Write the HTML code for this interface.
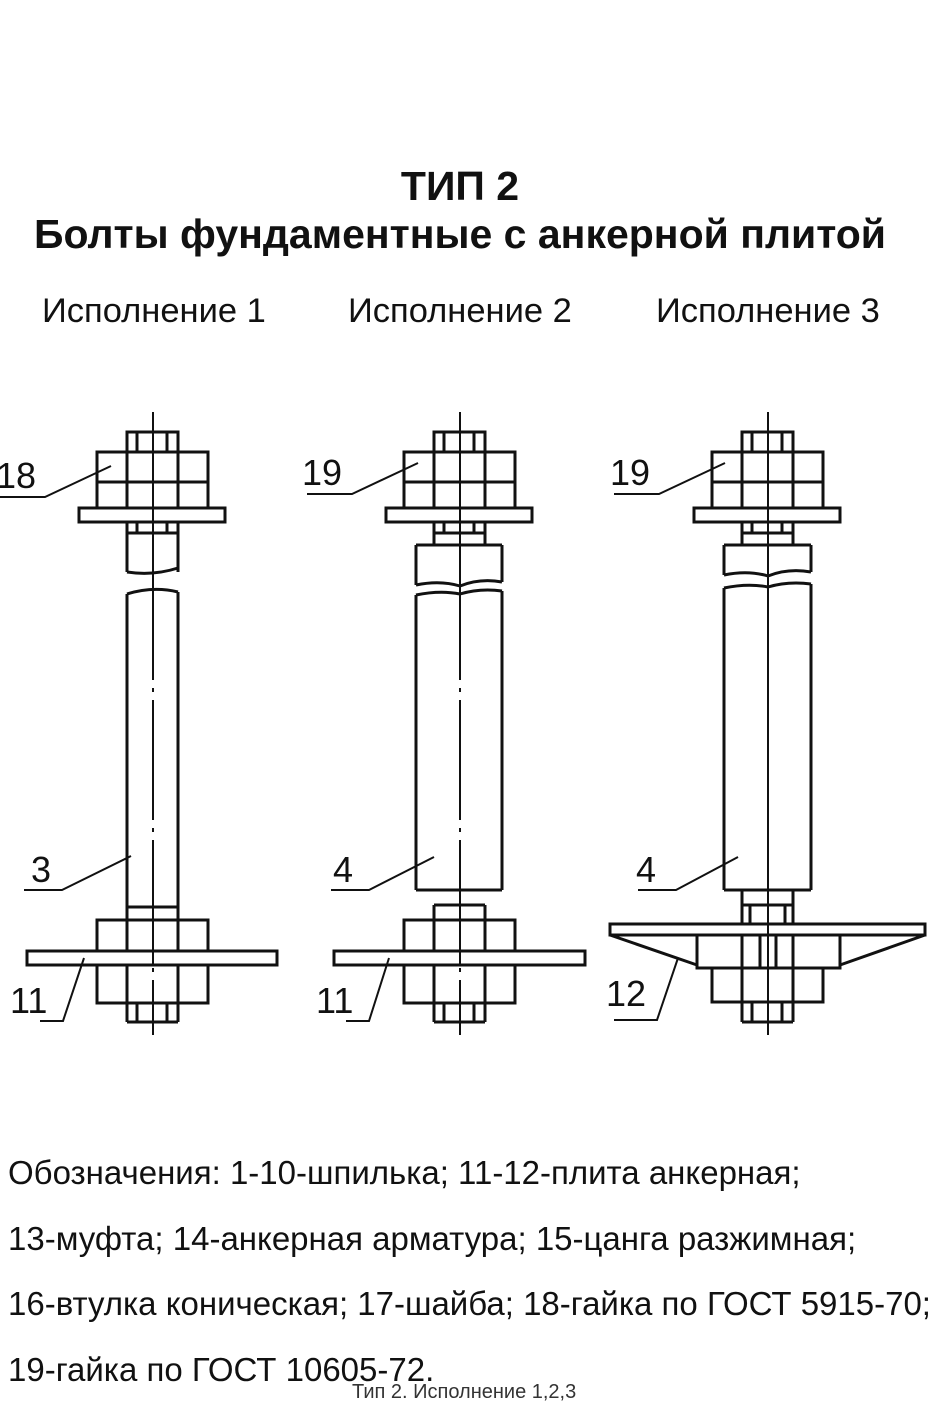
<!DOCTYPE html>
<html><head><meta charset="utf-8"><style>
body{margin:0;background:#fff;width:945px;height:1417px;overflow:hidden;position:relative;font-family:"Liberation Sans",sans-serif;}
.t{position:absolute;white-space:nowrap;color:#111;}
</style></head><body>
<div class="t" style="left:0;width:920px;text-align:center;top:163px;font-size:41px;font-weight:bold;">ТИП 2</div>
<div class="t" style="left:0;width:920px;text-align:center;top:211px;font-size:41px;font-weight:bold;">Болты фундаментные с анкерной плитой</div>
<div class="t" style="left:42px;top:292px;font-size:34.5px;">Исполнение 1</div>
<div class="t" style="left:348px;top:292px;font-size:34.5px;">Исполнение 2</div>
<div class="t" style="left:656px;top:292px;font-size:34.5px;">Исполнение 3</div>
<div class="t" style="left:8px;top:1154px;font-size:33px;">Обозначения: 1-10-шпилька; 11-12-плита анкерная;</div>
<div class="t" style="left:8px;top:1220px;font-size:33px;">13-муфта; 14-анкерная арматура; 15-цанга разжимная;</div>
<div class="t" style="left:8px;top:1285px;font-size:33px;">16-втулка коническая; 17-шайба; 18-гайка по ГОСТ 5915-70;</div>
<div class="t" style="left:8px;top:1351px;font-size:33px;">19-гайка по ГОСТ 10605-72.</div>
<div class="t" style="left:352px;top:1381px;font-size:20px;color:#333;">Тип 2. Исполнение 1,2,3</div>
<svg width="945" height="1417" style="position:absolute;left:0;top:0" fill="none" stroke="#111" stroke-width="3">
<defs>
<g id="top">
<line x1="0" y1="412" x2="0" y2="560" stroke-width="2"/>
<rect x="-26" y="432" width="51" height="20"/>
<line x1="-16" y1="432" x2="-16" y2="452"/><line x1="14" y1="432" x2="14" y2="452"/>
<rect x="-56" y="452" width="111" height="56"/>
<line x1="-56" y1="482" x2="55" y2="482"/>
<line x1="-26" y1="452" x2="-26" y2="508"/><line x1="25" y1="452" x2="25" y2="508"/>
<rect x="-74" y="508" width="146" height="14" fill="#fff"/>
<line x1="0" y1="508" x2="0" y2="522" stroke-width="2"/>
<line x1="-16" y1="522" x2="-16" y2="533"/><line x1="14" y1="522" x2="14" y2="533"/>
<line x1="-26" y1="533" x2="25" y2="533"/>
</g>
<g id="botnut">
<rect x="-56" y="920" width="111" height="31"/>
<rect x="-56" y="965" width="111" height="38"/>
<line x1="-26" y1="905" x2="-26" y2="1022"/><line x1="25" y1="905" x2="25" y2="1022"/>
<line x1="-26" y1="1022" x2="25" y2="1022"/>
<line x1="-16" y1="1003" x2="-16" y2="1022"/><line x1="14" y1="1003" x2="14" y2="1022"/>
<line x1="0" y1="560" x2="0" y2="1035" stroke-width="2" stroke-dasharray="120 8 4 8"/>
</g>
</defs>
<g transform="translate(153,0)">
<use href="#top"/><use href="#botnut"/>
<line x1="-26" y1="522" x2="-26" y2="572"/><line x1="25" y1="522" x2="25" y2="572"/>
<path d="M-26 572 Q0 576 25 568"/><path d="M-26 594 Q0 586 25 592"/>
<line x1="-26" y1="594" x2="-26" y2="907"/><line x1="25" y1="592" x2="25" y2="907"/>
<line x1="-26" y1="907" x2="25" y2="907"/>
<rect x="-126" y="951" width="250" height="14" fill="#fff"/>
<line x1="0" y1="951" x2="0" y2="965" stroke-width="2"/>
</g>
<g transform="translate(460,0)">
<use href="#top"/><use href="#botnut"/>
<line x1="-26" y1="522" x2="-26" y2="545"/><line x1="25" y1="522" x2="25" y2="545"/>
<line x1="-44" y1="545" x2="42" y2="545"/>
<line x1="-44" y1="545" x2="-44" y2="585"/><line x1="42" y1="545" x2="42" y2="582"/>
<path d="M-44 585 Q-20 580 0 586 Q20 578 42 582"/><path d="M-44 595 Q-20 590 0 594 Q20 588 42 591"/>
<line x1="-44" y1="595" x2="-44" y2="890"/><line x1="42" y1="591" x2="42" y2="890"/>
<line x1="-44" y1="890" x2="42" y2="890"/>
<line x1="-26" y1="905" x2="25" y2="905"/>
<rect x="-126" y="951" width="251" height="14" fill="#fff"/>
<line x1="0" y1="951" x2="0" y2="965" stroke-width="2"/>
</g>
<g transform="translate(768,0)">
<use href="#top"/>
<line x1="0" y1="560" x2="0" y2="1035" stroke-width="2" stroke-dasharray="120 8 4 8"/>
<line x1="-26" y1="522" x2="-26" y2="545"/><line x1="25" y1="522" x2="25" y2="545"/>
<line x1="-44" y1="545" x2="43" y2="545"/>
<line x1="-44" y1="545" x2="-44" y2="575"/><line x1="43" y1="545" x2="43" y2="572"/>
<path d="M-44 575 Q-20 570 0 576 Q20 568 43 572"/><path d="M-44 588 Q-20 583 0 587 Q20 581 43 584"/>
<line x1="-44" y1="588" x2="-44" y2="890"/><line x1="43" y1="584" x2="43" y2="890"/>
<line x1="-44" y1="890" x2="43" y2="890"/>
<line x1="-26" y1="890" x2="-26" y2="924"/><line x1="25" y1="890" x2="25" y2="924"/>
<line x1="-26" y1="905" x2="25" y2="905"/>
<line x1="-18" y1="905" x2="-18" y2="924"/><line x1="17" y1="905" x2="17" y2="924"/>
<rect x="-158" y="924" width="315" height="11" fill="#fff"/>
<path d="M-158 935 L-71 965 M157 935 L72 965"/>
<rect x="-71" y="935" width="143" height="33"/>
<line x1="-26" y1="935" x2="-26" y2="1022"/><line x1="25" y1="935" x2="25" y2="1022"/>
<line x1="-8" y1="935" x2="-8" y2="968"/><line x1="8" y1="935" x2="8" y2="968"/>
<rect x="-56" y="968" width="111" height="34"/>
<line x1="-26" y1="1022" x2="25" y2="1022"/>
<line x1="-16" y1="1002" x2="-16" y2="1022"/><line x1="14" y1="1002" x2="14" y2="1022"/>
<line x1="0" y1="560" x2="0" y2="1035" stroke-width="2"/>
</g>
<g stroke-width="2">
<path d="M0 497 L45 497 L111 466"/>
<path d="M307 494 L352 494 L418 463"/>
<path d="M614 494 L659 494 L725 463"/>
<path d="M24 890 L62 890 L131 856"/>
<path d="M331 890 L369 890 L434 857"/>
<path d="M638 890 L676 890 L738 857"/>
<path d="M40 1021 L63 1021 L84 958"/>
<path d="M346 1021 L369 1021 L389 958"/>
<path d="M614 1020 L657 1020 L678 958"/>
</g>
<g fill="#111" stroke="none" font-family="Liberation Sans, sans-serif" font-size="36">
<text x="-4" y="488">18</text>
<text x="302" y="485">19</text>
<text x="610" y="485">19</text>
<text x="31" y="882">3</text>
<text x="333" y="882">4</text>
<text x="636" y="882">4</text>
<text x="10" y="1013">11</text>
<text x="316" y="1013">11</text>
<text x="606" y="1006">12</text>
</g>
</svg>
</body></html>
